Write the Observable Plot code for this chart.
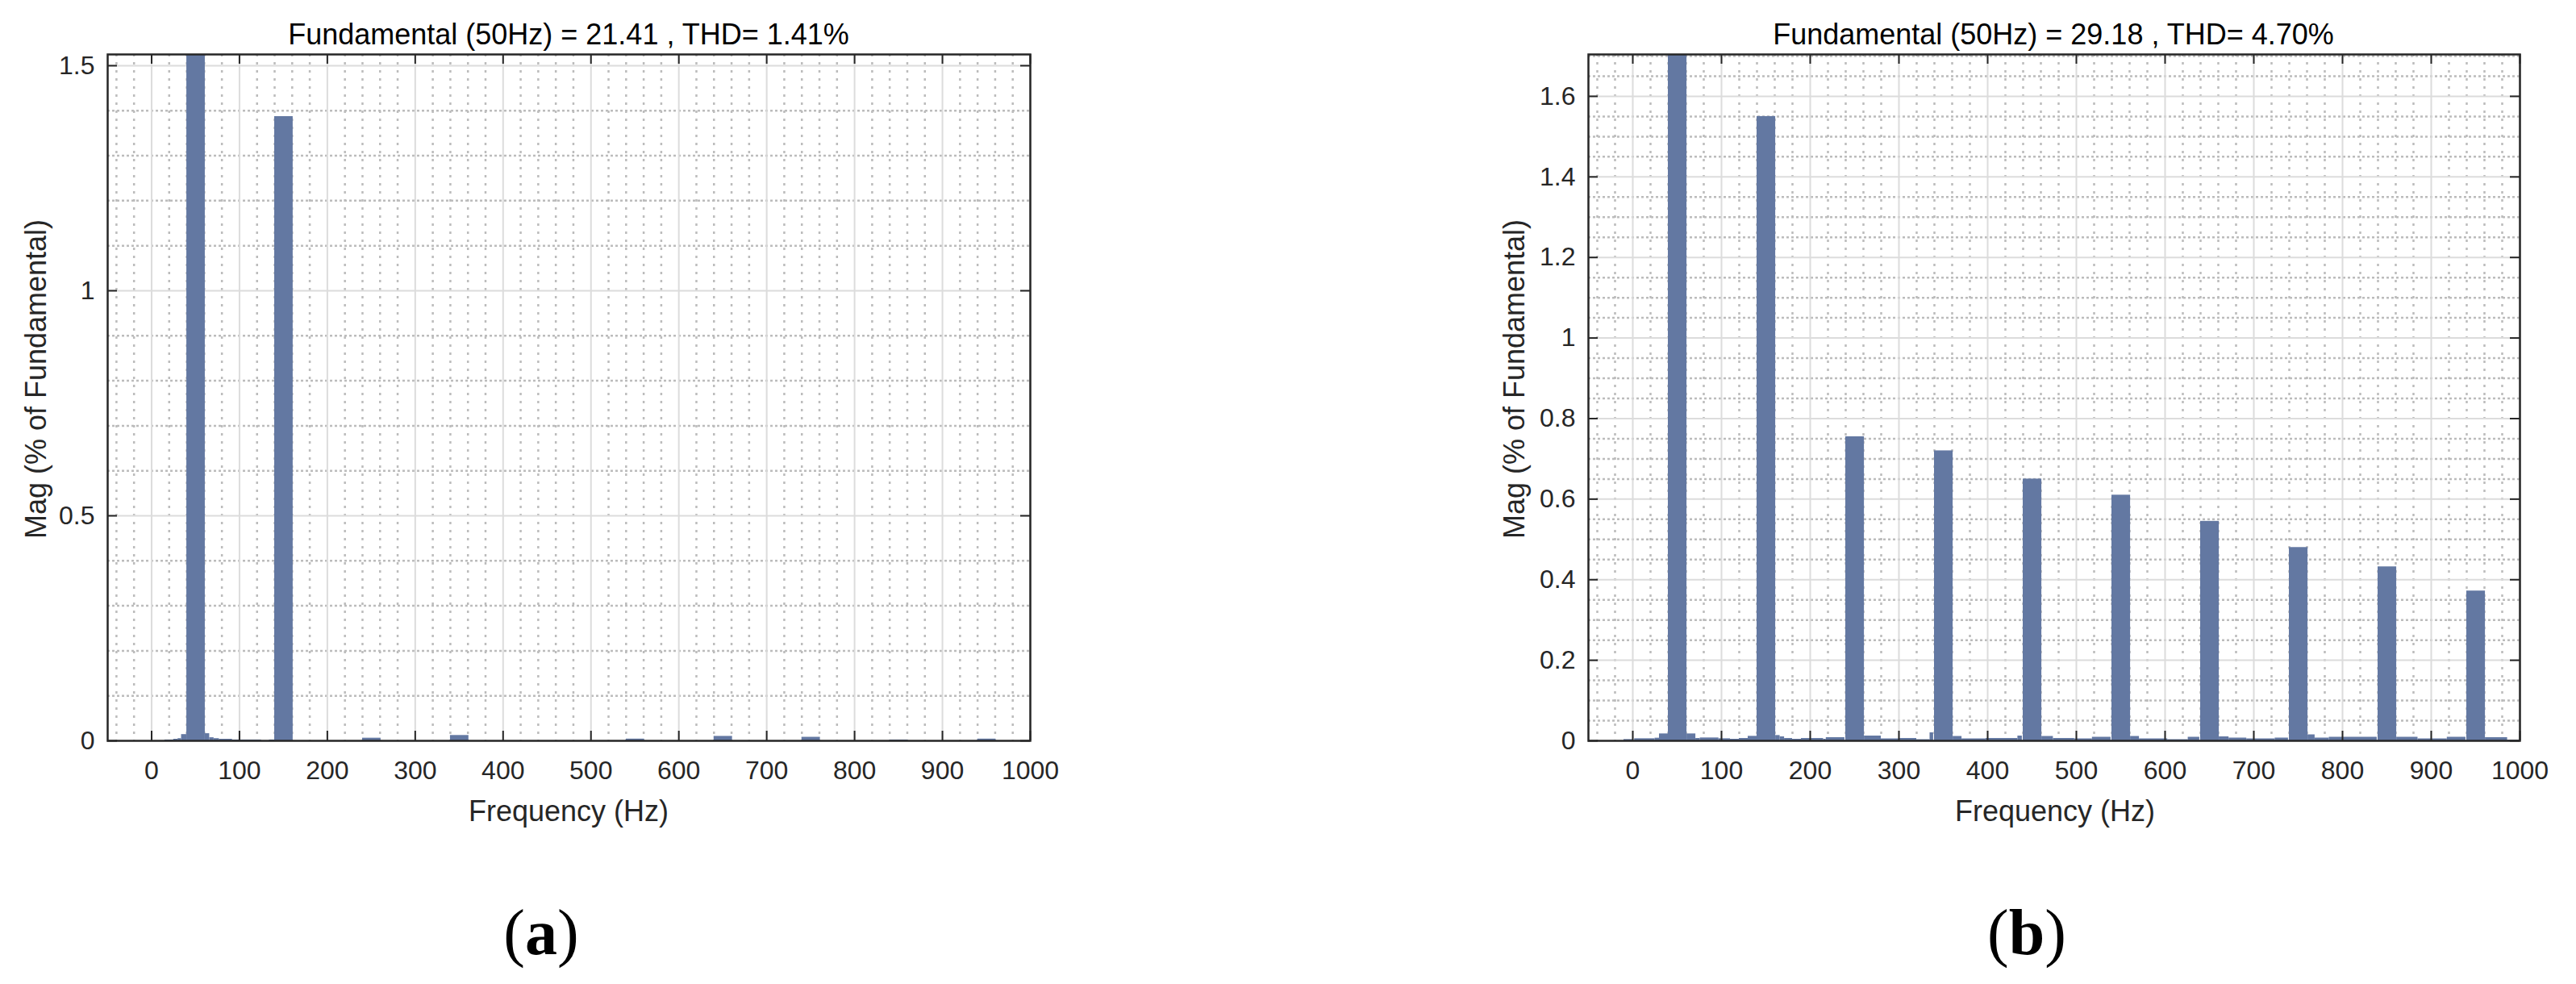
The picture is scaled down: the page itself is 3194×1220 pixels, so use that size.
<!DOCTYPE html>
<html>
<head>
<meta charset="utf-8">
<script src="https://cdn.jsdelivr.net/npm/d3@7"></script>
<script src="https://cdn.jsdelivr.net/npm/@observablehq/plot@0.6"></script>
<style>
  html, body { margin: 0; padding: 0; background: #ffffff; }
  #root { position: relative; width: 3194px; height: 1220px; overflow: hidden;
          font-family: "Liberation Sans", Arial, Helvetica, sans-serif; }
  .abs { position: absolute; white-space: nowrap; line-height: 1; }
  .title { font-size: 36px; color: #000; transform: translateX(-50%); }
  .xlab { font-size: 36px; color: #262626; transform: translateX(-50%); }
  .ylab { font-size: 36px; color: #262626; transform: translate(-50%, -50%) rotate(-90deg); }
  .panel { font-family: "Liberation Serif", "Times New Roman", serif; font-size: 80px; color: #000; transform: translateX(-50%); }
  .panel b { font-weight: bold; }
  .plot { position: absolute; top: 0; }
</style>
</head>
<body>
<div id="root"></div>
<script>
// ---------------- DATA ----------------
const xTicks = [0, 100, 200, 300, 400, 500, 600, 700, 800, 900, 1000];
const yTicksA = [0, 0.5, 1, 1.5];
const yTicksB = [0, 0.2, 0.4, 0.6, 0.8, 1, 1.2, 1.4, 1.6];

const titleA = "Fundamental (50Hz) = 21.41 , THD= 1.41%";
const titleB = "Fundamental (50Hz) = 29.18 , THD= 4.70%";
const xLabel = "Frequency (Hz)";
const yLabel = "Mag (% of Fundamental)";

// harmonic bars (Hz, % of fundamental)
const harmFreq = [50, 150, 250, 350, 450, 550, 650, 750, 850, 950];
const harmMagA = [100, 1.387, 0.006, 0.012, 0.0, 0.004, 0.010, 0.008, 0.002, 0.004];
const harmMagB = [100, 1.55, 0.755, 0.72, 0.65, 0.61, 0.545, 0.48, 0.432, 0.372];

// small leakage bins (start Hz, end Hz, magnitude)
const leakStartA = [15, 25, 30, 34, 61, 66, 71, 77, 92, 101, 134];
const leakEndA   = [25, 30, 34, 40, 66, 71, 77, 92, 100, 125, 140];
const leakMagA   = [0.002, 0.0036, 0.005, 0.014, 0.016, 0.007, 0.005, 0.0036, 0.002, 0.002, 0.002];

const leakStartB = [-10, 2, 25, 30, 61, 71, 76, 97, 110, 120, 130, 161, 166, 171, 180, 190, 215, 218,
                    261, 280, 300, 320, 335, 361, 371, 398, 434, 461, 474, 498, 518,
                    561, 571, 603, 626, 661, 672, 692, 724, 761, 769, 785, 861, 885, 918, 961, 986];
const leakEndB   = [0, 25, 30, 40, 71, 76, 97, 110, 120, 130, 140, 166, 171, 180, 190, 215, 218, 239,
                    280, 300, 320, 335, 339, 371, 398, 434, 439, 474, 498, 518, 539,
                    571, 603, 626, 639, 672, 692, 724, 739, 769, 785, 839, 885, 918, 939, 986, 1000];
const leakMagB   = [0.0033, 0.0053, 0.0067, 0.0173, 0.0173, 0.006, 0.0073, 0.0053, 0.004, 0.006, 0.0113, 0.0133, 0.01, 0.006, 0.004, 0.006, 0.004, 0.008,
                    0.012, 0.005, 0.006, 0.003, 0.02, 0.011, 0.005, 0.006, 0.012, 0.011, 0.006, 0.005, 0.009,
                    0.011, 0.005, 0.003, 0.009, 0.01, 0.007, 0.005, 0.007, 0.015, 0.007, 0.009, 0.009, 0.005, 0.009, 0.008, 0.002];

// ---------------- STYLE / LAYOUT ----------------
const BAR = "#6378a2";
const AXIS = "#262626";
const MAJOR_GRID = "#dcdcdc";
const MINOR_GRID = "#bcbcbc";
const FONT = "\"Liberation Sans\", Arial, Helvetica, sans-serif";
const SVG_W = 1597, SVG_H = 1000, M_TOP = 67, M_BOTTOM = 82;
const X_DOMAIN = [-50, 1000];

function makeChart({harmMag, leakStart, leakEnd, leakMag, yMax, yTicks, yMinorStep, yMinorEvery, mLeft, mRight}) {
  const frameW = SVG_W - mLeft - mRight;
  const frameH = SVG_H - M_TOP - M_BOTTOM;
  const tickLenY = 12 / frameH * yMax;
  const tickLenX = 12 / frameW * (X_DOMAIN[1] - X_DOMAIN[0]);

  const harm = harmFreq.map((f, i) => ({f, m: harmMag[i]}));
  const leak = leakStart.map((s, i) => ({s, e: leakEnd[i], m: leakMag[i]}));

  const xMinor = d3.range(-40, 1000, 20).filter(v => v % 100 !== 0);
  const nMinor = Math.floor(yMax / yMinorStep + 1e-9);
  const yMinor = d3.range(1, nMinor + 1).filter(i => i % yMinorEvery !== 0).map(i => +(i * yMinorStep).toFixed(4));

  return Plot.plot({
    width: SVG_W, height: SVG_H,
    marginLeft: mLeft, marginRight: mRight, marginTop: M_TOP, marginBottom: M_BOTTOM,
    style: {fontFamily: FONT, fontSize: "32px", color: AXIS, background: "transparent"},
    x: {domain: X_DOMAIN, axis: null, label: null},
    y: {domain: [0, yMax], axis: null, label: null},
    marks: [
      Plot.ruleX(xMinor, {x: d => d, stroke: MINOR_GRID, strokeWidth: 2.5, strokeDasharray: "3,7"}),
      Plot.ruleY(yMinor, {y: d => d, stroke: MINOR_GRID, strokeWidth: 2.5, strokeDasharray: "3,3"}),
      Plot.ruleX(xTicks, {x: d => d, stroke: MAJOR_GRID, strokeWidth: 2}),
      Plot.ruleY(yTicks.filter(v => v > 0), {y: d => d, stroke: MAJOR_GRID, strokeWidth: 2}),
      Plot.rectY(leak, {x1: "s", x2: "e", y1: 0, y2: "m", fill: BAR, clip: true}),
      Plot.rectY(harm, {x1: d => d.f - 10, x2: d => d.f + 11, y1: 0, y2: "m", fill: BAR, clip: true}),
      // inward ticks
      Plot.ruleX(xTicks, {x: d => d, y1: 0, y2: tickLenY, stroke: AXIS, strokeWidth: 2}),
      Plot.ruleX(xTicks, {x: d => d, y1: yMax - tickLenY, y2: yMax, stroke: AXIS, strokeWidth: 2}),
      Plot.ruleY(yTicks, {y: d => d, x1: X_DOMAIN[0], x2: X_DOMAIN[0] + tickLenX, stroke: AXIS, strokeWidth: 2}),
      Plot.ruleY(yTicks, {y: d => d, x1: X_DOMAIN[1] - tickLenX, x2: X_DOMAIN[1], stroke: AXIS, strokeWidth: 2}),
      Plot.frame({stroke: AXIS, strokeWidth: 2.5}),
      Plot.axisX(xTicks, {anchor: "bottom", label: null, tickSize: 0, tickPadding: 25, tickFormat: d => String(d), fontSize: 32, fill: AXIS}),
      Plot.axisY(yTicks, {anchor: "left", label: null, tickSize: 0, tickPadding: 16, tickFormat: d => String(d), fontSize: 32, fill: AXIS})
    ]
  });
}

const root = document.getElementById("root");

const chartA = makeChart({harmMag: harmMagA, leakStart: leakStartA, leakEnd: leakEndA, leakMag: leakMagA,
  yMax: 1.525, yTicks: yTicksA, yMinorStep: 0.1, yMinorEvery: 5, mLeft: 133, mRight: 320});
chartA.classList.add("plot");
chartA.style.left = "0px";
root.appendChild(chartA);

const chartB = makeChart({harmMag: harmMagB, leakStart: leakStartB, leakEnd: leakEndB, leakMag: leakMagB,
  yMax: 1.704, yTicks: yTicksB, yMinorStep: 0.05, yMinorEvery: 4, mLeft: 372, mRight: 70});
chartB.classList.add("plot");
chartB.style.left = "1597px";
root.appendChild(chartB);

function addText(cls, html, left, top) {
  const d = document.createElement("div");
  d.className = "abs " + cls;
  d.innerHTML = html;
  d.style.left = left + "px";
  d.style.top = top + "px";
  root.appendChild(d);
  return d;
}
const tA = addText("title", "", 705, 24.5); tA.textContent = titleA;
const tB = addText("title", "", 2546, 24.5); tB.textContent = titleB;
const xA = addText("xlab", "", 705, 987.5); xA.textContent = xLabel;
const xB = addText("xlab", "", 2548, 987.5); xB.textContent = xLabel;
const yA = addText("ylab", "", 45, 470); yA.textContent = yLabel;
const yB = addText("ylab", "", 1878, 470); yB.textContent = yLabel;
addText("panel", "(<b>a</b>)", 671, 1116);
addText("panel", "(<b>b</b>)", 2513, 1116);
</script>
</body>
</html>
